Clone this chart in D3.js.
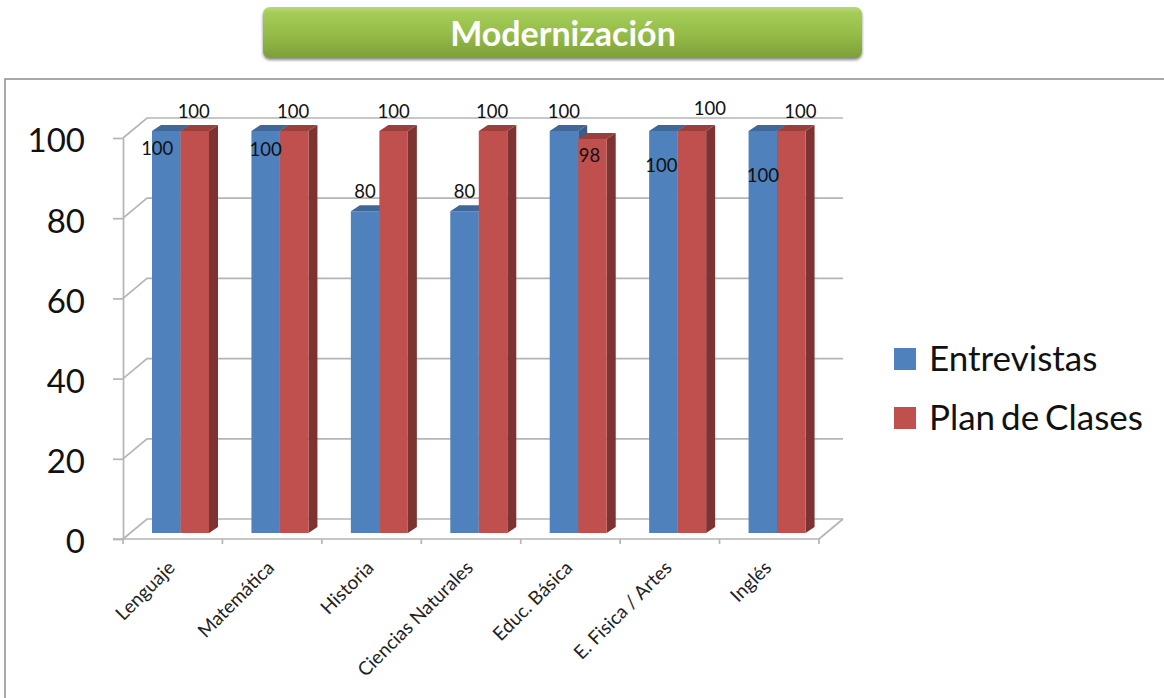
<!DOCTYPE html>
<html>
<head>
<meta charset="utf-8">
<script src="https://cdn.jsdelivr.net/npm/d3@7"></script>
<style>
  html, body { margin: 0; padding: 0; background: #fff; }
  svg { display: block; font-family: Lato, "Open Sans", sans-serif; }
</style>
</head>
<body>
<svg id="chart" width="1164" height="698"></svg>
<script>
const categories = ['Lenguaje', 'Matemática', 'Historia', 'Ciencias Naturales', 'Educ. Básica', 'E. Fisica / Artes', 'Inglés'];
const entrevistas = [100, 100, 80, 80, 100, 100, 100];
const planDeClases = [100, 100, 100, 100, 98, 100, 100];
const yTicks = [0, 20, 40, 60, 80, 100];
const seriesNames = ['Entrevistas', 'Plan de Clases'];
const chartTitle = 'Modernización';

const blue = { front: '#4f81bd', top: '#3f6797', side: '#385d8a' };
const red = { front: '#c0504d', top: '#99403d', side: '#7d3331' };
const gridColor = '#b5b5b5';

// hand-moved data labels in the original, offsets from top centre of each bar
const blueNudge = [[-9, 17], [0, 18], [0, -20], [0, -20], [0, -20], [-2, 34], [0, 44]];
const redNudge = [[-1, -20], [-1, -20], [0, -20], [-1, -20], [-3, 16], [18, -23], [9, -20]];

const svg = d3.select('#chart');
const defs = svg.append('defs');

const grad = defs.append('linearGradient').attr('id', 'btn').attr('x1', 0).attr('y1', 0).attr('x2', 0).attr('y2', 1);
grad.append('stop').attr('offset', '0%').attr('stop-color', '#b9d97a');
grad.append('stop').attr('offset', '12%').attr('stop-color', '#a4cc58');
grad.append('stop').attr('offset', '55%').attr('stop-color', '#94bb47');
grad.append('stop').attr('offset', '100%').attr('stop-color', '#7d9f38');

const shadow = defs.append('filter').attr('id', 'shadow').attr('x', '-5%').attr('y', '-20%').attr('width', '110%').attr('height', '150%');
shadow.append('feDropShadow').attr('dx', 0).attr('dy', 2).attr('stdDeviation', 1.5).attr('flood-color', '#555').attr('flood-opacity', 0.7);

// frame
svg.append('path')
  .attr('d', 'M5,698V79H1164')
  .attr('fill', 'none').attr('stroke', '#8c8c8c').attr('stroke-width', 1.5);

// title button
svg.append('rect')
  .attr('x', 263).attr('y', 7).attr('width', 599).attr('height', 51).attr('rx', 7)
  .attr('fill', 'url(#btn)').attr('filter', 'url(#shadow)');
svg.append('text')
  .attr('x', 563).attr('y', 46)
  .attr('text-anchor', 'middle')
  .attr('fill', '#fff')
  .attr('font-size', 34).attr('font-weight', 700)
  .text(chartTitle);

// scales
const x = d3.scaleBand().domain(categories).range([123, 819]);
const y = d3.scaleLinear().domain([0, 100]).range([539, 138]);
const depthX = 24, depthY = -20;   // back wall shift
const barLift = 6, barDepthX = 9, barDepthY = -6;
const inner = d3.scaleBand().domain(seriesNames).range([29, 86]);

const wall = svg.append('g').attr('fill', 'none').attr('stroke', gridColor).attr('stroke-width', 1.7);

// gridlines on back wall + diagonal on the side wall
wall.selectAll('path.grid').data(yTicks).join('path')
  .attr('class', 'grid')
  .attr('d', d => `M${x.range()[0]},${y(d)}L${x.range()[0] + depthX},${y(d) + depthY}H${x.range()[1] + depthX}`);

// floor right edge
wall.append('path')
  .attr('d', `M${x.range()[1]},${y(0)}L${x.range()[1] + depthX},${y(0) + depthY}`);

// axes, front
const axisY = svg.append('g').attr('transform', `translate(${x.range()[0]},0)`)
  .call(d3.axisLeft(y).tickValues(yTicks).tickSize(10).tickSizeOuter(0).tickFormat(d3.format('d')));
axisY.select('.domain').attr('stroke', gridColor).attr('stroke-width', 1.7);
axisY.selectAll('.tick line').attr('stroke', gridColor).attr('stroke-width', 1.7);
axisY.selectAll('.tick text')
  .attr('x', -38).attr('dy', '0.42em')
  .attr('font-size', 33).attr('font-family', 'Lato, sans-serif').attr('fill', '#111');

const tickEdges = d3.range(categories.length + 1).map(i => x.range()[0] + i * x.step());
const axisX = svg.append('g');
axisX.append('line')
  .attr('x1', x.range()[0] - 10).attr('x2', x.range()[1])
  .attr('y1', y(0)).attr('y2', y(0))
  .attr('stroke', gridColor).attr('stroke-width', 1.7);
axisX.selectAll('line.tk').data(tickEdges).join('line')
  .attr('class', 'tk')
  .attr('x1', d => d).attr('x2', d => d)
  .attr('y1', y(0)).attr('y2', y(0) + 5)
  .attr('stroke', gridColor).attr('stroke-width', 1.7);

axisX.selectAll('text').data(categories).join('text')
  .attr('transform', d => `translate(${x(d) + 53},569) rotate(-45)`)
  .attr('text-anchor', 'end')
  .attr('font-size', 19).attr('fill', '#222')
  .text(d => d);

// 3d bars
function drawBars(name, values, pal) {
  const g = svg.append('g');
  const rows = categories.map((c, i) => ({ c, v: values[i], i }));
  const left = d => x(d.c) + inner(name);
  const w = inner.bandwidth();
  const top = d => y(d.v) - barLift - 1;
  const bottom = y(0) - barLift;

  g.selectAll('path.side').data(rows).join('path')
    .attr('fill', pal.side)
    .attr('d', d => `M${left(d) + w},${top(d)}l${barDepthX},${barDepthY}V${bottom + barDepthY}l${-barDepthX},${-barDepthY}Z`);
  g.selectAll('path.top').data(rows).join('path')
    .attr('fill', pal.top)
    .attr('d', d => `M${left(d)},${top(d)}l${barDepthX},${barDepthY}h${w}l${-barDepthX},${-barDepthY}Z`);
  g.selectAll('rect').data(rows).join('rect')
    .attr('x', left).attr('y', top)
    .attr('width', w).attr('height', d => bottom - top(d))
    .attr('fill', pal.front);
}
drawBars(seriesNames[0], entrevistas, blue);
drawBars(seriesNames[1], planDeClases, red);

// data labels
function drawLabels(name, values, nudge) {
  svg.append('g').selectAll('text').data(values).join('text')
    .attr('x', (d, i) => x(categories[i]) + inner(name) + inner.bandwidth() / 2 + nudge[i][0])
    .attr('y', (d, i) => y(d) - barLift - 1 + nudge[i][1] + 7)
    .attr('text-anchor', 'middle')
    .attr('font-size', 18.5).attr('fill', '#111')
    .text(d => d);
}
drawLabels(seriesNames[0], entrevistas, blueNudge);
drawLabels(seriesNames[1], planDeClases, redNudge);

// legend
const legendY = d3.scalePoint().domain(seriesNames).range([359, 418]);
const legend = svg.append('g');
legend.selectAll('rect').data(seriesNames).join('rect')
  .attr('x', 894).attr('y', d => legendY(d) - 11)
  .attr('width', 22).attr('height', 22)
  .attr('fill', (d, i) => (i ? red : blue).front);
legend.selectAll('text').data(seriesNames).join('text')
  .attr('x', 929).attr('y', d => legendY(d) + 12)
  .attr('font-size', 35).attr('word-spacing', -3).attr('fill', '#111')
  .text(d => d);
</script>
</body>
</html>
